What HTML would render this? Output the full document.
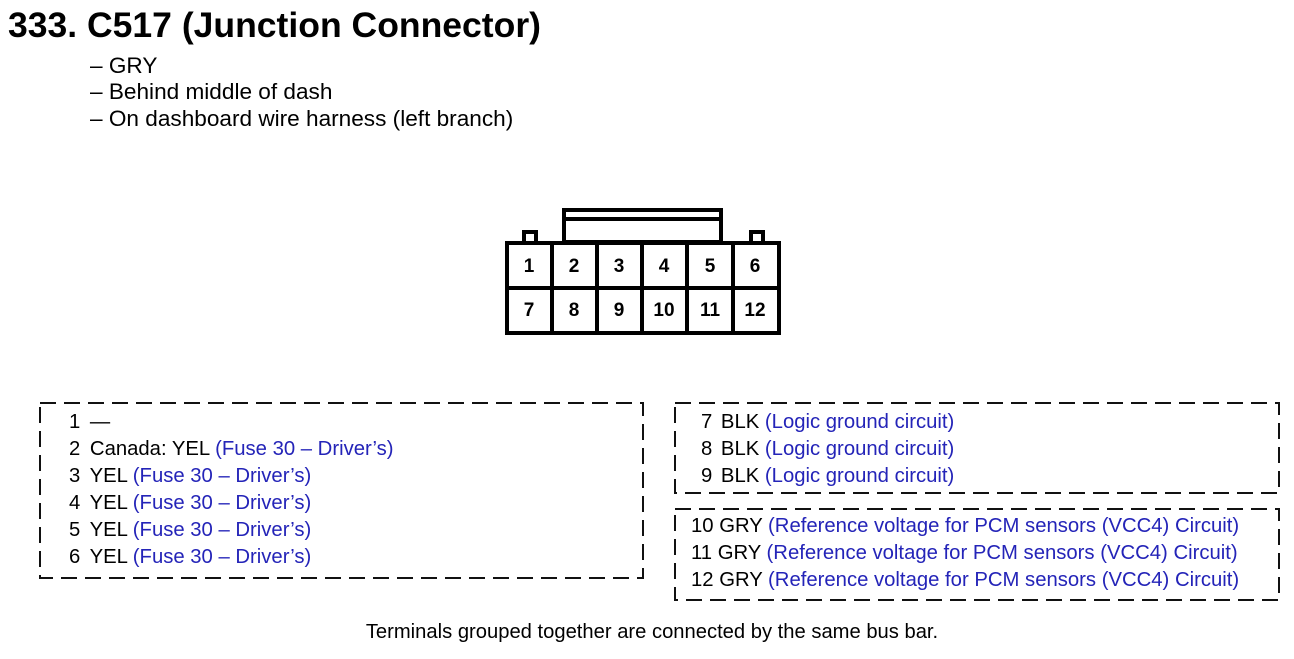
<!DOCTYPE html>
<html><head><style>body{margin:0;background:#fff}</style></head><body>
<svg width="1294" height="654" xmlns="http://www.w3.org/2000/svg" font-family="Liberation Sans, Arial, sans-serif">
<text x="8" y="37" font-size="35" font-weight="bold" textLength="533" lengthAdjust="spacingAndGlyphs">333. C517 (Junction Connector)</text>
<g font-size="22.6">
<text x="90" y="73">– GRY</text>
<text x="90" y="99">– Behind middle of dash</text>
<text x="90" y="126">– On dashboard wire harness (left branch)</text>
</g>
<g fill="none" stroke="#000" stroke-width="4">
<rect x="564" y="210" width="157" height="32"/>
<line x1="564" y1="219" x2="721" y2="219"/>
<path d="M524 242 V232 H536 V242 M751 242 V232 H763 V242"/>
<rect x="507" y="243" width="272" height="90"/>
<line x1="507" y1="288" x2="779" y2="288"/>
<line x1="552" y1="243" x2="552" y2="333"/>
<line x1="597" y1="243" x2="597" y2="333"/>
<line x1="642" y1="243" x2="642" y2="333"/>
<line x1="687" y1="243" x2="687" y2="333"/>
<line x1="733" y1="243" x2="733" y2="333"/>
</g>
<g font-size="19" font-weight="bold" text-anchor="middle">
<text x="529" y="272">1</text><text x="574" y="272">2</text><text x="619" y="272">3</text><text x="664" y="272">4</text><text x="710" y="272">5</text><text x="755" y="272">6</text>
<text x="529" y="316">7</text><text x="574" y="316">8</text><text x="619" y="316">9</text><text x="664" y="316">10</text><text x="710" y="316">11</text><text x="755" y="316">12</text>
</g>
<g fill="none" stroke="#111" stroke-width="2" stroke-dasharray="16 8">
<rect x="40" y="403" width="603" height="175"/>
<rect x="675" y="403" width="604" height="90"/>
<rect x="675" y="509" width="604" height="91"/>
</g>
<g font-size="20.3" fill="#000">
<text x="69" y="428">1 <tspan dx="4">—</tspan></text>
<text x="69" y="455">2 <tspan dx="4">Canada: YEL</tspan> <tspan fill="#2424b8">(Fuse 30 – Driver’s)</tspan></text>
<text x="69" y="482">3 <tspan dx="4">YEL</tspan> <tspan fill="#2424b8">(Fuse 30 – Driver’s)</tspan></text>
<text x="69" y="509">4 <tspan dx="4">YEL</tspan> <tspan fill="#2424b8">(Fuse 30 – Driver’s)</tspan></text>
<text x="69" y="536">5 <tspan dx="4">YEL</tspan> <tspan fill="#2424b8">(Fuse 30 – Driver’s)</tspan></text>
<text x="69" y="563">6 <tspan dx="4">YEL</tspan> <tspan fill="#2424b8">(Fuse 30 – Driver’s)</tspan></text>
<text x="701" y="428">7 <tspan dx="3">BLK</tspan> <tspan fill="#2424b8">(Logic ground circuit)</tspan></text>
<text x="701" y="455">8 <tspan dx="3">BLK</tspan> <tspan fill="#2424b8">(Logic ground circuit)</tspan></text>
<text x="701" y="482">9 <tspan dx="3">BLK</tspan> <tspan fill="#2424b8">(Logic ground circuit)</tspan></text>
<text x="691" y="532">10 GRY <tspan fill="#2424b8">(Reference voltage for PCM sensors (VCC4) Circuit)</tspan></text>
<text x="691" y="559">11 GRY <tspan fill="#2424b8">(Reference voltage for PCM sensors (VCC4) Circuit)</tspan></text>
<text x="691" y="586">12 GRY <tspan fill="#2424b8">(Reference voltage for PCM sensors (VCC4) Circuit)</tspan></text>
</g>
<text x="652" y="638" font-size="20.2" text-anchor="middle">Terminals grouped together are connected by the same bus bar.</text>
</svg>
</body></html>
